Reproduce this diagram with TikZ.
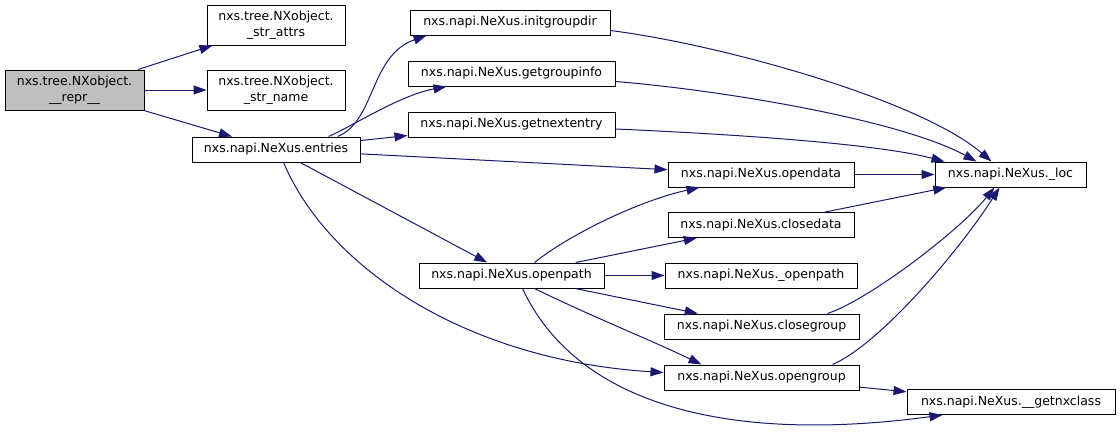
\documentclass[tikz,border=0pt]{standalone}
\usepackage{fontspec}
\setmainfont{DejaVu Sans}
\usetikzlibrary{arrows.meta, calc}

\definecolor{edgeblue}{HTML}{191970}
\definecolor{nodegray}{HTML}{BFBFBF}

\begin{document}
\begin{tikzpicture}[x=1pt, y=-1pt,
    fn/.style={draw, line width=1pt, inner sep=0pt, minimum height=25,
        font=\fontsize{12.5}{16}\selectfont, align=center},
    call/.style={draw=edgeblue, line width=1pt, -{Triangle[length=13pt, width=9pt]}}]
    \useasboundingbox (0,0) rectangle (1120,432);

    % functions
    \node[fn, fill=nodegray, minimum width=139, minimum height=40] (repr) at (74.5,90) {nxs.tree.NXobject.\\\_\_repr\_\_};
    \node[fn, minimum width=138, minimum height=40] (strattrs) at (276,25) {nxs.tree.NXobject.\\\_str\_attrs};
    \node[fn, minimum width=138, minimum height=40] (strname) at (276,90) {nxs.tree.NXobject.\\\_str\_name};
    \node[fn, minimum width=168] (entries) at (276,149.5) {nxs.napi.NeXus.entries};
    \node[fn, minimum width=200] (initgroupdir) at (510,22.5) {nxs.napi.NeXus.initgroupdir};
    \node[fn, minimum width=207] (getgroupinfo) at (511.5,73.5) {nxs.napi.NeXus.getgroupinfo};
    \node[fn, minimum width=207] (getnextentry) at (511.5,124.5) {nxs.napi.NeXus.getnextentry};
    \node[fn, minimum width=186] (opendata) at (761,174.5) {nxs.napi.NeXus.opendata};
    \node[fn, minimum width=151] (loc) at (1010.5,174.5) {nxs.napi.NeXus.\_loc};
    \node[fn, minimum width=186] (closedata) at (761,225) {nxs.napi.NeXus.closedata};
    \node[fn, minimum width=185] (openpath) at (511.5,275.5) {nxs.napi.NeXus.openpath};
    \node[fn, minimum width=192] (uopenpath) at (761,275.5) {nxs.napi.NeXus.\_openpath};
    \node[fn, minimum width=195] (closegroup) at (761.5,326.5) {nxs.napi.NeXus.closegroup};
    \node[fn, minimum width=195] (opengroup) at (761.5,377.5) {nxs.napi.NeXus.opengroup};
    \node[fn, minimum width=208] (getnxclass) at (1011,402) {nxs.napi.NeXus.\_\_getnxclass};

    % calls from __repr__
    \draw[call] (repr) -- (strattrs);
    \draw[call] (repr) -- (strname);
    \draw[call] (repr) -- (entries);

    % calls from entries
    \draw[call] ($(entries.north east)+(-23,0)$) .. controls +(38,-15) and +(-57,20) .. ($(initgroupdir.south west)+(17,0)$);
    \draw[call] ($(entries.north east)+(-32,0)$) .. controls +(27,-12) and +(-47,9) .. ($(getgroupinfo.south west)+(39,0)$);
    \draw[call] (entries) -- (getnextentry);
    \draw[call] (entries) -- (opendata);
    \draw[call] (entries) -- (openpath);
    \draw[call] ($(entries.south west)+(92,0)$) .. controls +(46,108) and +(-194,-12) .. ($(opengroup.west)+(0,-5)$);

    % calls to _loc
    \draw[call] ($(initgroupdir.east)+(0,8)$) .. controls +(110,14) and +(-72,-62) .. ($(loc.north west)+(57,0)$);
    \draw[call] ($(getgroupinfo.east)+(0,8)$) .. controls +(105,8.5) and +(-77,-42) .. ($(loc.north west)+(42,0)$);
    \draw[call] ($(getnextentry.east)+(0,4.5)$) .. controls +(135,6) and +(-65,-17) .. ($(loc.north west)+(10,0)$);
    \draw[call] (opendata) -- (loc);
    \draw[call] (closedata) -- (loc);
    \draw[call] ($(closegroup.north west)+(164,0)$) .. controls +(42,-14) and +(-35,43) .. ($(loc.south west)+(60,0)$);
    \draw[call] ($(opengroup.north west)+(169,0)$) .. controls +(47,-20) and +(-40,63) .. ($(loc.south west)+(65,0)$);

    % calls from openpath
    \draw[call] ($(openpath.north west)+(116,0)$) .. controls +(35,-28) and +(-60,13) .. ($(opendata.south west)+(32,0)$);
    \draw[call] (openpath) -- (closedata);
    \draw[call] (openpath) -- (uopenpath);
    \draw[call] (openpath) -- (closegroup);
    \draw[call] ($(openpath.south west)+(116,0)$) .. controls +(55,27) and +(-52,-25) .. ($(opengroup.north west)+(38,0)$);
    \draw[call] ($(openpath.south west)+(104,0)$) .. controls +(52,112) and +(-223,30) .. ($(getnxclass.south west)+(36,0)$);
    \draw[call] (opengroup) -- (getnxclass);
\end{tikzpicture}
\end{document}
